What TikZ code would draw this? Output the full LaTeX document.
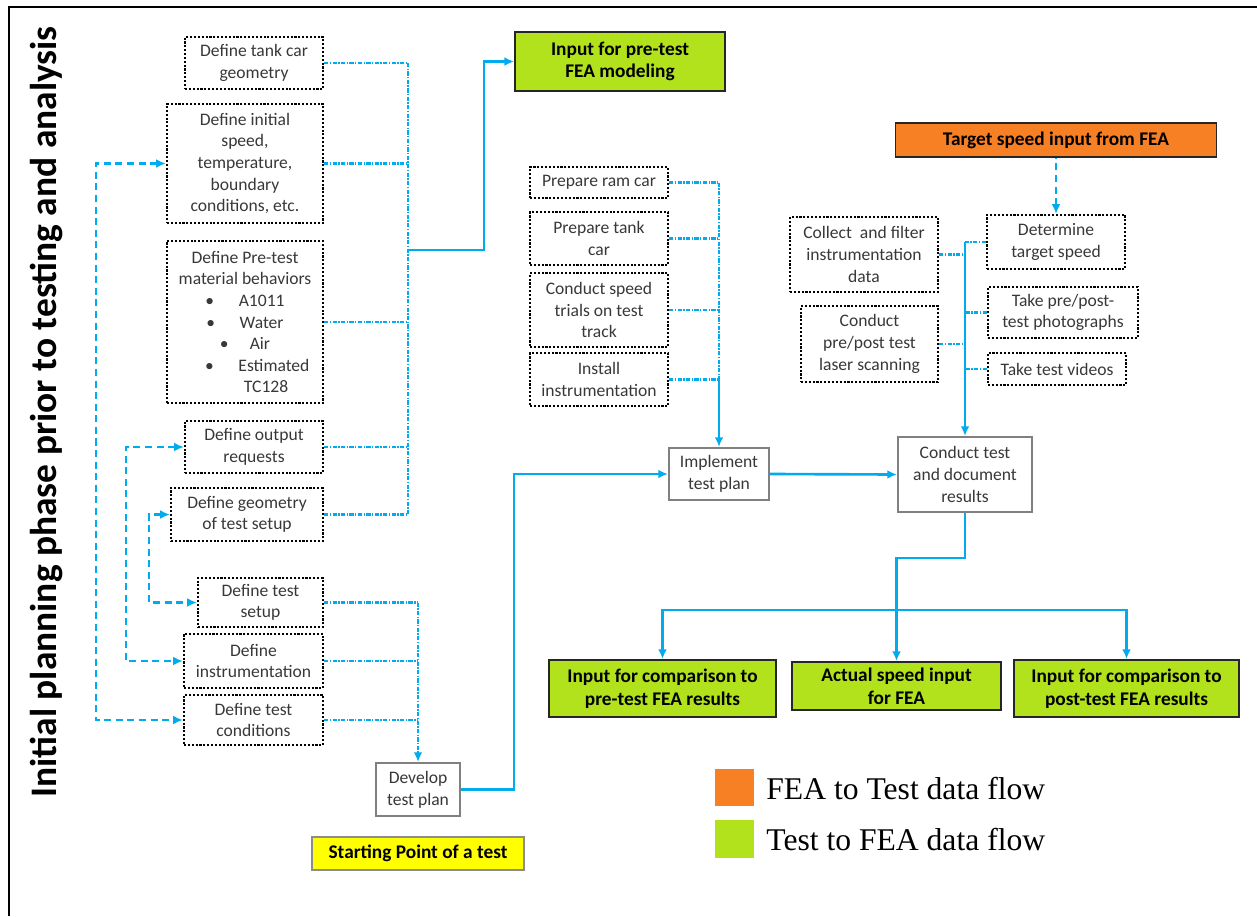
\documentclass[tikz,border=0pt]{standalone}
\usepackage{fontspec}
\setmainfont{Carlito}
\newfontfamily\legendfont{Liberation Serif}
\usetikzlibrary{arrows.meta}

\definecolor{flowblue}{RGB}{0,172,238}
\definecolor{limeg}{RGB}{178,226,28}
\definecolor{orangefea}{RGB}{247,128,36}
\definecolor{startyellow}{RGB}{255,255,0}

\tikzset{
  box/.style 2 args={minimum width=#1*0.02cm, minimum height=#2*0.02cm},
  task/.style={draw=black, line width=1.3pt, dash pattern=on 1.2pt off 1pt,
    align=center, text=black!78, inner sep=0pt, font=\fontsize{10}{12.3}\selectfont},
  stage/.style={draw=black!50, line width=1.2pt, fill=white, align=center,
    text=black!78, inner sep=0pt, font=\fontsize{10}{12.3}\selectfont},
  result/.style={draw=black!85, line width=1.1pt, fill=limeg, align=center,
    inner sep=0pt, font=\fontsize{11}{13}\selectfont\bfseries},
  feed/.style={flowblue, line width=1.6pt, dash pattern=on 2.4pt off 0.8pt on 0.8pt off 0.8pt},
  flow/.style={flowblue, line width=1.5pt, ->},
  backflow/.style={flowblue, line width=1.5pt, dash pattern=on 4pt off 2.6pt, <->},
}

\begin{document}
\begin{tikzpicture}[x=0.02cm, y=-0.02cm, >={Latex[length=5.5pt,width=5pt]}]
    \useasboundingbox (0,0) rectangle (1257,916);

    % Frame and side title
    \draw[line width=1.6pt] (9,916) -- (9,7) -- (1257,7);
    \node[rotate=90, font=\fontsize{21.3}{24}\selectfont\bfseries] (title) at (47,412)
        {Initial planning phase prior to testing and analysis};

    % Planning tasks (left column)
    \node[task, box={138}{52}] (geom) at (254,63) {Define tank car\\geometry};
    \node[task, box={156}{119}] (speed) at (245,163.5)
        {Define initial\\speed,\\temperature,\\boundary\\conditions, etc.};
    \node[task, box={156}{162}] (mat) at (245,322)
        {Define Pre-test\\material behaviors\\
         \textbullet\hspace{1.4em}A1011\\
         \textbullet\hspace{1.4em}Water\\
         \textbullet\hspace{1.2em}Air\\
         \hspace{1.4em}\textbullet\hspace{1.4em}Estimated\\
         \hspace{2.4em}TC128};
    \node[task, box={138}{52}] (outreq) at (254,447) {Define output\\requests};
    \node[task, box={152}{53}] (setupgeom) at (247,514.5) {Define geometry\\of test setup};
    \node[task, box={125}{49}] (setup) at (260.5,602.5) {Define test\\setup};
    \node[task, box={139}{54}] (instr) at (253.5,661) {Define\\instrumentation};
    \node[task, box={139}{50}] (cond) at (253.5,720) {Define test\\conditions};

    \node[stage, box={84}{53}] (develop) at (418,789.5) {Develop\\test plan};
    \node[draw=black!45, line width=0.8pt, fill=startyellow, box={212}{33}, inner sep=0pt,
        font=\fontsize{11}{13}\selectfont\bfseries] (start) at (418,853.5) {Starting Point of a test};

    \node[result, box={210}{59}] (preFEA) at (620,61.5) {Input for pre-test\\FEA modeling};

    % Feeders to pre-test FEA input
    \coordinate (busA) at (408,250);
    \foreach \n in {geom,speed,mat,outreq,setupgeom}
        \draw[feed] (\n.east) -- (\n.east -| busA);
    \draw[feed] (geom.east -| busA) -- (setupgeom.east -| busA);
    \draw[flow] (busA) -- ++(76,0) |- (preFEA.west);

    % Feeders to test plan
    \coordinate (busB) at (418,602.5);
    \foreach \n in {setup,instr,cond}
        \draw[feed] (\n.east) -- (\n.east -| busB);
    \draw[feed, ->] (busB) -- (develop.north);

    % Dashed links between tasks
    \draw[backflow] (speed.west) -- ++(-70,0) |- (cond.west);
    \draw[backflow] (outreq.west) -- ++(-58,0) |- (instr.west);
    \draw[backflow] (setupgeom.west) -- ++(-21,0) |- (setup.west);

    % Test preparation (middle column)
    \node[task, box={138}{31}] (ram) at (599,182.5) {Prepare ram car};
    \node[task, box={138}{53}] (tank) at (599,238.5) {Prepare tank\\car};
    \node[task, box={138}{74}] (trials) at (599,310) {Conduct speed\\trials on test\\track};
    \node[task, box={138}{53}] (install) at (599,379.5) {Install\\instrumentation};
    \node[stage, box={100}{52}] (implement) at (719,474) {Implement\\test plan};

    \coordinate (busC) at (719,182.5);
    \foreach \n in {ram,tank,trials,install}
        \draw[feed] (\n.east) -- (\n.east -| busC);
    \draw[feed] (busC) -- (install.east -| busC);
    \draw[flow] (install.east -| busC) -- (implement.north);
    \draw[flow] (develop.east) -- ++(53,0) |- (implement.west);

    % Test execution (right column)
    \node[draw=black!85, line width=1.1pt, fill=orangefea, box={321}{34}, inner sep=0pt,
        font=\fontsize{11}{13}\selectfont\bfseries] (target) at (1056,140) {Target speed input from FEA};
    \node[task, box={138}{54}] (determine) at (1056,242) {Determine\\target speed};
    \node[task, box={150}{51}] (photos) at (1063,312.5) {Take pre/post-\\test photographs};
    \node[task, box={138}{32}] (videos) at (1057,369) {Take test videos};
    \node[task, box={148}{75}] (collect) at (864,254.5) {Collect~ and filter\\instrumentation\\data};
    \node[task, box={137}{76}] (laser) at (869.5,344) {Conduct\\pre/post test\\laser scanning};
    \node[stage, box={134}{75}] (conduct) at (965,474.5) {Conduct test\\and document\\results};

    \draw[backflow, <-] (determine.north) -- (target.south);
    \coordinate (busD) at (965,242);
    \foreach \n in {determine,photos,videos}
        \draw[feed] (\n.west) -- (\n.west -| busD);
    \foreach \n in {collect,laser}
        \draw[feed] (\n.east) -- (\n.east -| busD);
    \draw[flow] (busD) -- (conduct.north);
    \draw[flow] (implement.east) -- (conduct.west);

    % Results back to FEA
    \node[result, box={227}{57}] (cmppre) at (662.5,688.5) {Input for comparison to\\pre-test FEA results};
    \node[result, box={209}{48}] (actual) at (896.5,686) {Actual speed input\\for FEA};
    \node[result, box={225}{57}] (cmppost) at (1126.5,688.5) {Input for comparison to\\post-test FEA results};

    \draw[flow] (conduct.south) -- ++(0,45) -| (actual.north);
    \coordinate (split) at (896.5,610);
    \draw[flow] (split) -| (cmppre.north);
    \draw[flow] (split) -| (cmppost.north);

    % Legend
    \node[fill=orangefea, box={39}{37}, inner sep=0pt] (keyfea) at (734.5,787.5) {};
    \node[fill=limeg, box={39}{38}, inner sep=0pt] (keytest) at (734.5,839) {};
    \node[anchor=west, inner sep=0pt, font=\legendfont\fontsize{18}{20}\selectfont] (keyfeatext)
        at (766,789) {FEA to Test data flow};
    \node[anchor=west, inner sep=0pt, font=\legendfont\fontsize{18}{20}\selectfont] (keytesttext)
        at (766,840) {Test to FEA data flow};
\end{tikzpicture}
\end{document}
